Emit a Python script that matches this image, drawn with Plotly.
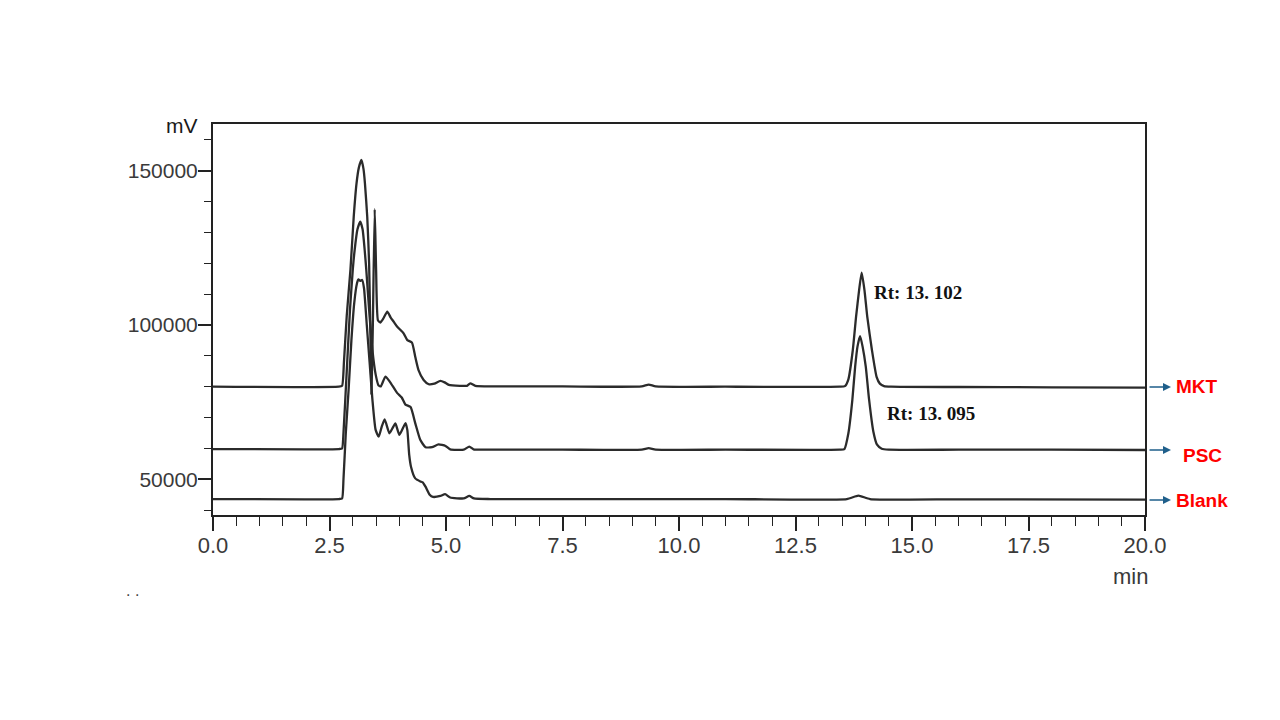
import plotly.graph_objects as go

# ---------------- data ----------------
mkt_time = [0, 2.70, 2.77, 2.81, 2.87, 2.95, 3.02, 3.08, 3.13, 3.185,
            3.23, 3.26, 3.31, 3.35, 3.38, 3.40, 3.43, 3.47, 3.50, 3.54,
            3.59, 3.65, 3.74, 3.81, 3.88, 3.95, 4.09, 4.17, 4.27, 4.34,
            4.41, 4.52, 4.63, 4.75, 4.88, 4.97, 5.06, 5.30, 5.45, 5.52,
            5.63, 6.0, 7.5, 9.2, 9.35, 9.5, 11.0, 13.45, 13.56, 13.635,
            13.73, 13.80, 13.865, 13.92, 13.98, 14.04, 14.14, 14.24, 14.31, 14.40,
            14.55, 16.0, 18.0, 20.0]
mkt_signal = [80000, 80000, 80300, 88000, 103000, 118000, 135100, 145900, 151000, 153500,
              150500, 146000, 135000, 120000, 95000, 77500, 100000, 137500, 118000, 101500,
              100800, 102000, 104300, 102500, 101000, 99500, 97300, 95100, 94300, 89700,
              85400, 82200, 80800, 81000, 81900, 81400, 80600, 80300, 80300, 81100,
              80300, 80100, 80100, 80100, 80700, 80100, 80000, 80000, 80200, 82400,
              91900, 102700, 111300, 117000, 111300, 102700, 91900, 83200, 81000, 80200,
              80000, 79900, 79800, 79700]

psc_time = [0, 2.70, 2.77, 2.80, 2.87, 2.94, 3.00, 3.04, 3.10, 3.16,
            3.21, 3.255, 3.29, 3.35, 3.42, 3.49, 3.55, 3.60, 3.70, 3.80,
            3.95, 4.05, 4.13, 4.24, 4.34, 4.45, 4.56, 4.70, 4.84, 4.99,
            5.09, 5.38, 5.50, 5.59, 5.95, 7.5, 9.2, 9.35, 9.5, 11.0,
            13.45, 13.55, 13.635, 13.72, 13.78, 13.83, 13.886, 13.94, 14.008, 14.08,
            14.17, 14.25, 14.35, 14.5, 16.0, 18.0, 20.0]
psc_signal = [59800, 59800, 60000, 65000, 85000, 105000, 118000, 124300, 131000, 133500,
              131000, 124300, 117800, 105000, 92000, 84000, 80500, 80100, 83300, 81500,
              78000, 76500, 74200, 73400, 68200, 62700, 60400, 60400, 61300, 60800,
              59700, 59600, 60600, 59700, 59600, 59600, 59600, 60100, 59600, 59600,
              59600, 59800, 64900, 75700, 86500, 93000, 96400, 93000, 86500, 75700,
              65500, 61200, 59900, 59600, 59600, 59600, 59500]

blank_time = [0, 2.70, 2.77, 2.80, 2.85, 2.91, 2.97, 3.03, 3.09, 3.12,
              3.16, 3.20, 3.24, 3.30, 3.36, 3.42, 3.49, 3.556, 3.62, 3.684,
              3.785, 3.85, 3.914, 4.00, 4.13, 4.17, 4.21, 4.25, 4.34, 4.45,
              4.50, 4.56, 4.65, 4.72, 4.88, 4.98, 5.09, 5.38, 5.50, 5.60,
              5.95, 8.0, 11.0, 13.6, 13.85, 14.1, 16.0, 20.0]
blank_signal = [43600, 43600, 43800, 50000, 65000, 79000, 95000, 107000, 113500, 114800,
                114300, 114600, 112000, 100000, 88000, 76000, 66000, 63800, 67000, 69400,
                64900, 66500, 68100, 64400, 68200, 66000, 58000, 54000, 50300, 49300,
                49000, 47600, 45000, 44300, 44600, 45200, 44100, 43800, 44600, 43800,
                43600, 43600, 43600, 43600, 44700, 43600, 43500, 43400]

series_names = ["MKT", "PSC", "Blank"]
rt_labels = ["Rt: 13. 102", "Rt: 13. 095"]
x_ticks = [0, 2.5, 5, 7.5, 10, 12.5, 15, 17.5, 20]
y_ticks = [50000, 100000, 150000]

assert len(mkt_time) == len(mkt_signal)
assert len(psc_time) == len(psc_signal)
assert len(blank_time) == len(blank_signal)

# ---------------- layout geometry ----------------
W, H = 1280, 720
L, R, T, B = 213, 135, 124, 205
PW, PH = W - L - R, H - T - B


def fx(px):
    return (px - L) / PW


def fy(py):
    return (H - B - py) / PH


line_color = "#2b2b2b"
tick_font = "Liberation Sans, Arial, sans-serif"

fig = go.Figure()
for t, s, name in [(mkt_time, mkt_signal, series_names[0]),
                   (psc_time, psc_signal, series_names[1]),
                   (blank_time, blank_signal, series_names[2])]:
    fig.add_trace(go.Scatter(x=t, y=s, mode="lines", name=name,
                             line=dict(color=line_color, width=2.3,
                                       shape="spline", smoothing=0.5),
                             hoverinfo="skip", showlegend=False))

fig.update_layout(
    width=W, height=H,
    margin=dict(l=L, r=R, t=T, b=B, pad=0),
    paper_bgcolor="white", plot_bgcolor="white",
    showlegend=False,
    xaxis=dict(range=[0, 20], tickvals=x_ticks, tickformat=".1f",
               showgrid=False, zeroline=False,
               showline=True, linecolor="#222", linewidth=2, mirror=True,
               ticks="outside", ticklen=14, tickwidth=1.6, tickcolor="#222",
               minor=dict(dtick=0.5, ticks="outside", ticklen=9, tickwidth=1.4,
                          tickcolor="#222", showgrid=False),
               ticklabelstandoff=-4,
               tickfont=dict(family=tick_font, size=22, color="#3a3a3a")),
    yaxis=dict(range=[38430, 165130], tickvals=y_ticks, tickformat="d",
               showgrid=False, zeroline=False,
               showline=True, linecolor="#222", linewidth=2, mirror=True,
               ticks="outside", ticklen=13, tickwidth=1.6, tickcolor="#222",
               minor=dict(dtick=10000, ticks="outside", ticklen=7, tickwidth=1.4,
                          tickcolor="#222", showgrid=False),
               ticklabelstandoff=-4,
               tickfont=dict(family=tick_font, size=21, color="#3a3a3a")),
)

ann = []
# axis unit labels
ann.append(dict(text="mV", x=fx(182), y=fy(125), xref="paper", yref="paper",
                xanchor="center", yanchor="middle",
                showarrow=False, font=dict(family="Liberation Sans, Arial", size=21, color="#1a1a1a")))
ann.append(dict(text="min", x=fx(1130), y=fy(576), xref="paper", yref="paper",
                xanchor="center", yanchor="middle",
                showarrow=False, font=dict(family=tick_font, size=22, color="#3a3a3a")))
ann.append(dict(text=". .", x=fx(132), y=fy(590), xref="paper", yref="paper",
                xanchor="center", yanchor="middle",
                showarrow=False, font=dict(family="Liberation Sans, Arial", size=16, color="#444")))

# retention time labels
rt_font = dict(family="Liberation Serif, DejaVu Serif, serif", size=19, color="#111")
ann.append(dict(text="<b>%s</b>" % rt_labels[0], x=fx(872), y=fy(292), xref="paper", yref="paper",
                xanchor="left", yanchor="middle", showarrow=False, font=rt_font))
ann.append(dict(text="<b>%s</b>" % rt_labels[1], x=fx(885), y=fy(413), xref="paper", yref="paper",
                xanchor="left", yanchor="middle", showarrow=False, font=rt_font))

# series labels with arrows
label_font = dict(family="Liberation Sans, Arial", size=19, color="#ff0000")
arrow_color = "#1f5f8b"
for name, py, lx, ly in [(series_names[0], 387, 1174, 387),
                         (series_names[1], 450, 1181, 455),
                         (series_names[2], 500, 1174, 500)]:
    ann.append(dict(text="", x=fx(1171), y=fy(py), xref="paper", yref="paper",
                    ax=-23, ay=0, axref="pixel", ayref="pixel",
                    showarrow=True, arrowhead=2, arrowsize=1, arrowwidth=1.6,
                    arrowcolor=arrow_color))
    ann.append(dict(text="<b>%s</b>" % name, x=fx(lx), y=fy(ly), xref="paper", yref="paper",
                    xanchor="left", yanchor="middle", showarrow=False, font=label_font))

fig.update_layout(annotations=ann)

fig.write_html("out.html", config={"displayModeBar": False},
               post_script="document.body.style.margin='0';")
